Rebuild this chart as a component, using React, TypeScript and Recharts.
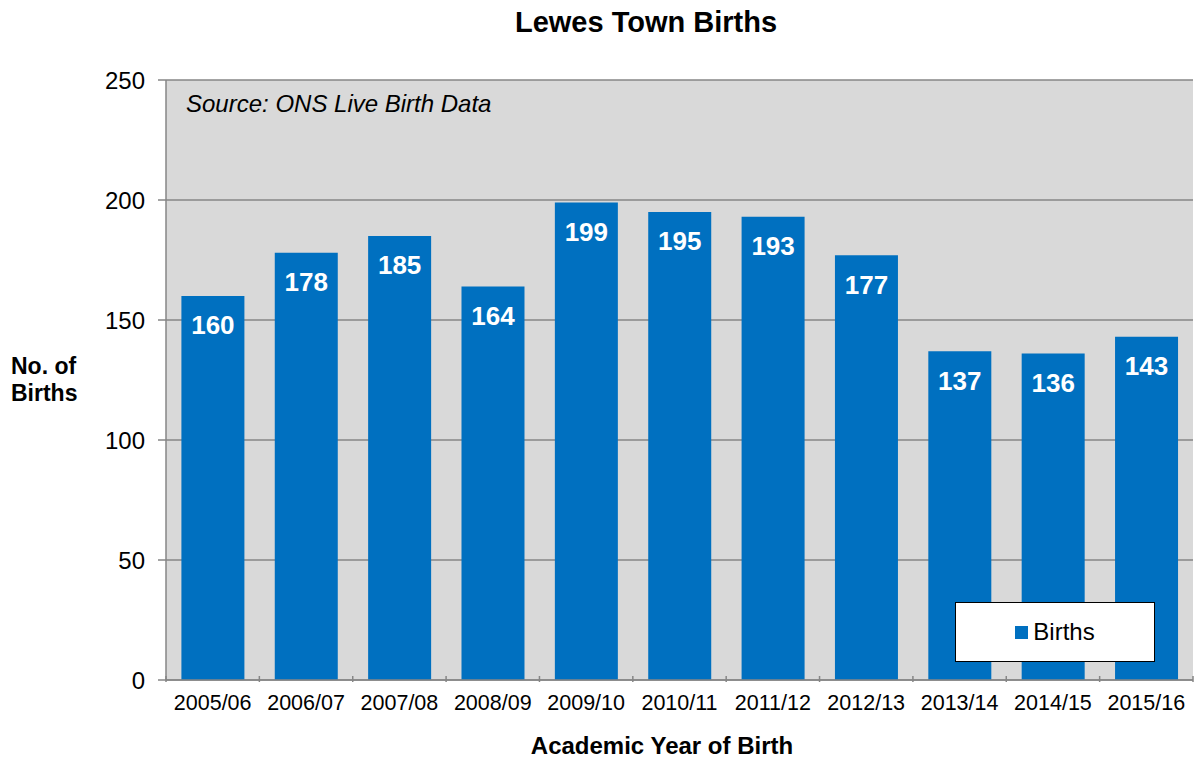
import React from 'react';
import { BarChart, Bar, XAxis, YAxis, CartesianGrid, LabelList } from 'recharts';

const YEARS = ['2005/06', '2006/07', '2007/08', '2008/09', '2009/10', '2010/11', '2011/12', '2012/13', '2013/14', '2014/15', '2015/16'];
const BIRTHS = [160, 178, 185, 164, 199, 195, 193, 177, 137, 136, 143];
const Y_TICKS = [0, 50, 100, 150, 200, 250];

const data = YEARS.map((year, i) => ({ year, births: BIRTHS[i] }));

const FONT = '"Liberation Sans", Arial, sans-serif';
const GRAY = '#868686';
const BLUE = '#0070c0';

const W = 1196;
const H = 758;
const PLOT_LEFT = 166;
const PLOT_RIGHT = 1193;
const BAND = (PLOT_RIGHT - PLOT_LEFT) / YEARS.length;

// Excel-style ticks sit between categories, not under them
const YearTick = (props: any) => {
  const { x, y, payload, index } = props;
  const last = index === YEARS.length - 1;
  return (
    <g>
      <line x1={x - BAND / 2} y1={y - 12} x2={x - BAND / 2} y2={y - 6} stroke={GRAY} strokeWidth={1.5} />
      {last && <line x1={x + BAND / 2} y1={y - 12} x2={x + BAND / 2} y2={y - 6} stroke={GRAY} strokeWidth={1.5} />}
      <text x={x} y={y + 22} textAnchor="middle" fontSize={21.5} fill="#000" fontFamily={FONT}>
        {payload.value}
      </text>
    </g>
  );
};

export default function App() {
  return (
    <div style={{ position: 'absolute', left: 0, top: 0, width: W, height: H, background: '#fff', fontFamily: FONT }}>
      <BarChart width={W} height={H} data={data} margin={{ top: 80, right: W - PLOT_RIGHT, bottom: 0, left: 0 }} barCategoryGap="16.5%">
        <CartesianGrid vertical={false} fill="#d9d9d9" stroke={GRAY} strokeWidth={1.5} />
        <XAxis
          dataKey="year"
          height={78}
          tick={<YearTick />}
          tickLine={false}
          axisLine={{ stroke: GRAY, strokeWidth: 1.5 }}
          interval={0}
        />
        <YAxis
          width={PLOT_LEFT}
          domain={[0, 250]}
          ticks={Y_TICKS}
          tickSize={8}
          tickMargin={13}
          tick={{ fontSize: 24, fill: '#000', fontFamily: FONT }}
          tickLine={{ stroke: GRAY, strokeWidth: 1.5 }}
          axisLine={{ stroke: GRAY, strokeWidth: 1.5 }}
        />
        <Bar dataKey="births" name="Births" fill={BLUE} isAnimationActive={false}>
          <LabelList
            dataKey="births"
            position="insideTop"
            offset={20}
            fill="#fff"
            fontSize={26}
            fontWeight="bold"
            fontFamily={FONT}
          />
        </Bar>
      </BarChart>

      <div
        style={{
          position: 'absolute',
          left: 955,
          top: 602,
          width: 198,
          height: 58,
          background: '#fff',
          border: '1.5px solid #000',
          display: 'flex',
          alignItems: 'center',
          justifyContent: 'center',
          fontSize: 24,
        }}
      >
        <span style={{ display: 'inline-block', width: 13, height: 13, background: BLUE, marginRight: 5 }} />
        <span>Births</span>
      </div>

      <div style={{ position: 'absolute', left: 0, width: 1292, top: 6, textAlign: 'center', fontSize: 29, fontWeight: 'bold' }}>
        Lewes Town Births
      </div>
      <div style={{ position: 'absolute', left: 186, top: 90, fontSize: 24, fontStyle: 'italic' }}>
        Source: ONS Live Birth Data
      </div>
      <div style={{ position: 'absolute', left: 11, top: 353, fontSize: 23, fontWeight: 'bold', lineHeight: '27px' }}>
        No. of
        <br />
        Births
      </div>
      <div style={{ position: 'absolute', left: 166, width: 992, top: 732, textAlign: 'center', fontSize: 24, fontWeight: 'bold' }}>
        Academic Year of Birth
      </div>
    </div>
  );
}
